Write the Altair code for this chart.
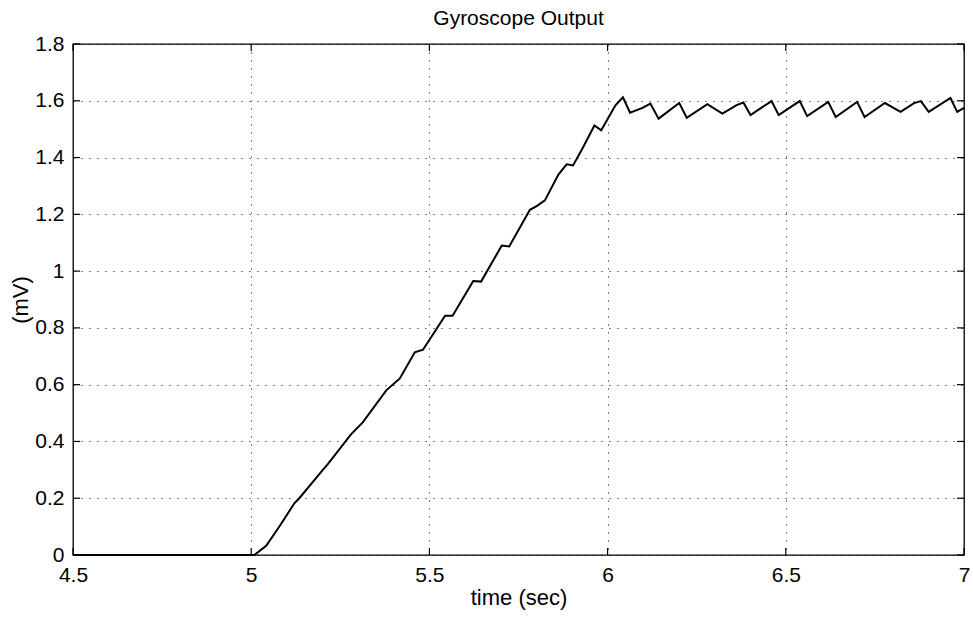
import altair as alt
import pandas as pd

# Gyroscope output trace (time in seconds, output in mV)
time_s = [4.5, 5.009, 5.042, 5.08, 5.121, 5.135, 5.201, 5.215, 5.28, 5.313,
          5.379, 5.417, 5.459, 5.482, 5.544, 5.565, 5.623, 5.645, 5.703, 5.724,
          5.782, 5.801, 5.824, 5.862, 5.885, 5.903, 5.929, 5.963, 5.982, 6.022,
          6.043, 6.063, 6.098, 6.12, 6.143, 6.201, 6.222, 6.28, 6.322, 6.362,
          6.381, 6.401, 6.46, 6.48, 6.539, 6.56, 6.619, 6.64, 6.7, 6.721,
          6.778, 6.822, 6.86, 6.879, 6.901, 6.962, 6.981, 7.0]
output_mv = [0, 0, 0.032, 0.102, 0.182, 0.2, 0.30, 0.32, 0.425, 0.467,
             0.58, 0.622, 0.714, 0.723, 0.843, 0.843, 0.965, 0.963, 1.09, 1.087,
             1.216, 1.229, 1.249, 1.34, 1.376, 1.372, 1.431, 1.513, 1.496, 1.584,
             1.612, 1.558, 1.575, 1.59, 1.537, 1.592, 1.54, 1.588, 1.555, 1.585,
             1.594, 1.55, 1.599, 1.55, 1.599, 1.546, 1.596, 1.543, 1.596, 1.543,
             1.592, 1.561, 1.592, 1.599, 1.561, 1.61, 1.561, 1.575]

x_ticks = [4.5, 5, 5.5, 6, 6.5, 7]
y_ticks = [0, 0.2, 0.4, 0.6, 0.8, 1, 1.2, 1.4, 1.6, 1.8]

W, H = 891, 511
FONT = "Liberation Sans"

trace = pd.DataFrame({"t": time_s, "v": output_mv})
xt = pd.DataFrame({"t": x_ticks})
yt = pd.DataFrame({"v": y_ticks})

x_scale = alt.Scale(domain=[4.5, 7], nice=False, zero=False)
y_scale = alt.Scale(domain=[0, 1.8], nice=False, zero=False)

x_axis = alt.Axis(values=x_ticks, format="~g", title="time (sec)", grid=True,
                  ticks=False, domain=False, labelPadding=9, titlePadding=2,
                  labelFontSize=21, titleFontSize=22, labelFlush=False)
y_axis = alt.Axis(values=y_ticks, format="~g", title="(mV)", grid=True,
                  ticks=False, domain=False, labelPadding=9, titlePadding=2,
                  labelFontSize=21, titleFontSize=22, labelFlush=False)

line = alt.Chart(trace).mark_line(color="black", strokeWidth=2).encode(
    x=alt.X("t:Q", scale=x_scale, axis=x_axis),
    y=alt.Y("v:Q", scale=y_scale, axis=y_axis),
)

# inward-facing ticks on all four sides
tick_len = 7
rule = dict(color="black", strokeWidth=1.2)
x_bottom = alt.Chart(xt).mark_rule(**rule).encode(
    x=alt.X("t:Q", scale=x_scale, axis=x_axis), y=alt.value(H), y2=alt.value(H - tick_len))
x_top = alt.Chart(xt).mark_rule(**rule).encode(
    x=alt.X("t:Q", scale=x_scale, axis=x_axis), y=alt.value(0), y2=alt.value(tick_len))
y_left = alt.Chart(yt).mark_rule(**rule).encode(
    y=alt.Y("v:Q", scale=y_scale, axis=y_axis), x=alt.value(0), x2=alt.value(tick_len))
y_right = alt.Chart(yt).mark_rule(**rule).encode(
    y=alt.Y("v:Q", scale=y_scale, axis=y_axis), x=alt.value(W), x2=alt.value(W - tick_len))

chart = alt.layer(line, x_bottom, x_top, y_left, y_right).properties(
    width=W, height=H,
    background="white",
    title=alt.Title("Gyroscope Output", fontSize=21, fontWeight="normal",
                    font=FONT, color="black", offset=4),
    autosize=alt.AutoSizeParams(type="none"),
    padding={"left": 73, "top": 44, "right": 9, "bottom": 62},
).configure_view(
    stroke="black", strokeWidth=1.3
).configure_axis(
    labelFont=FONT, titleFont=FONT, labelColor="black", titleColor="black",
    titleFontWeight="normal", gridColor="black", gridDash=[1, 7],
    gridWidth=1, gridOpacity=1
)

chart.save("out.html", embed_options={"renderer": "svg", "actions": False})
